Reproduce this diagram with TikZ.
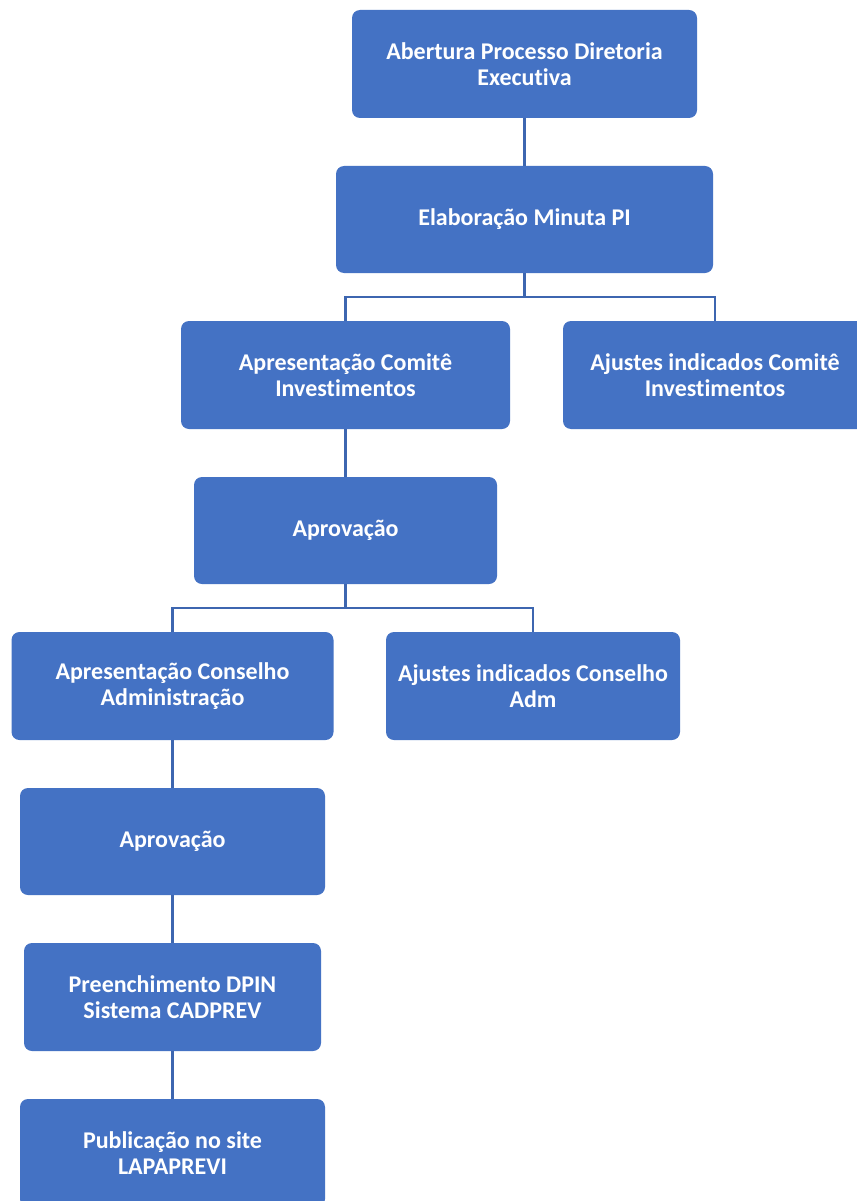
\documentclass[tikz,border=0pt]{standalone}
\usepackage{fontspec}
\setmainfont[Ligatures=NoCommon]{Carlito}
\begin{document}
\begin{tikzpicture}[x=1pt,y=-1pt,
  box/.style={rectangle,rounded corners=8pt,fill=boxblue,draw=none,text=white,
    font=\bfseries\fontsize{24}{26}\selectfont,align=center,inner sep=0pt},
  link/.style={draw=linkblue,line width=2.6pt}]
\definecolor{boxblue}{HTML}{4472C4}
\definecolor{linkblue}{HTML}{3D66B0}
\useasboundingbox (0,0) rectangle (856,1201);
\fill[white] (0,0) rectangle (856,1201);
\node[box,minimum width=345pt,minimum height=108pt] (a) at (524.5,64) {Abertura Processo Diretoria\\Executiva};
\node[box,minimum width=377pt,minimum height=107pt] (b) at (524.5,219.5) {Elaboração Minuta PI};
\node[box,minimum width=329pt,minimum height=108pt] (c) at (345.5,375) {Apresentação Comitê\\Investimentos};
\node[box,minimum width=304pt,minimum height=108pt] (d) at (715,375) {Ajustes indicados Comitê\\Investimentos};
\node[box,minimum width=303pt,minimum height=107pt] (e) at (345.5,530.5) {Aprovação};
\node[box,minimum width=322pt,minimum height=108pt] (f) at (172.5,686) {Apresentação Conselho\\Administração};
\node[box,minimum width=294pt,minimum height=108pt] (g) at (533,686) {Ajustes indicados Conselho\\Adm};
\node[box,minimum width=305pt,minimum height=107pt] (h) at (172.5,841.5) {Aprovação};
\node[box,minimum width=297pt,minimum height=108pt] (i) at (172.5,997) {Preenchimento DPIN\\Sistema CADPREV};
\node[box,minimum width=305pt,minimum height=108pt] (j) at (172.5,1153) {Publicação no site\\LAPAPREVI};
\coordinate (fork1) at (524.5,297);
\coordinate (fork2) at (345.5,608);
\draw[link] (a.south) -- (b.north);
\draw[link] (b.south) -- (fork1) -| (c.north);
\draw[link] (fork1) -| (d.north);
\draw[link] (c.south) -- (e.north);
\draw[link] (e.south) -- (fork2) -| (f.north);
\draw[link] (fork2) -| (g.north);
\draw[link] (f.south) -- (h.north);
\draw[link] (h.south) -- (i.north);
\draw[link] (i.south) -- (j.north);
\end{tikzpicture}
\end{document}
